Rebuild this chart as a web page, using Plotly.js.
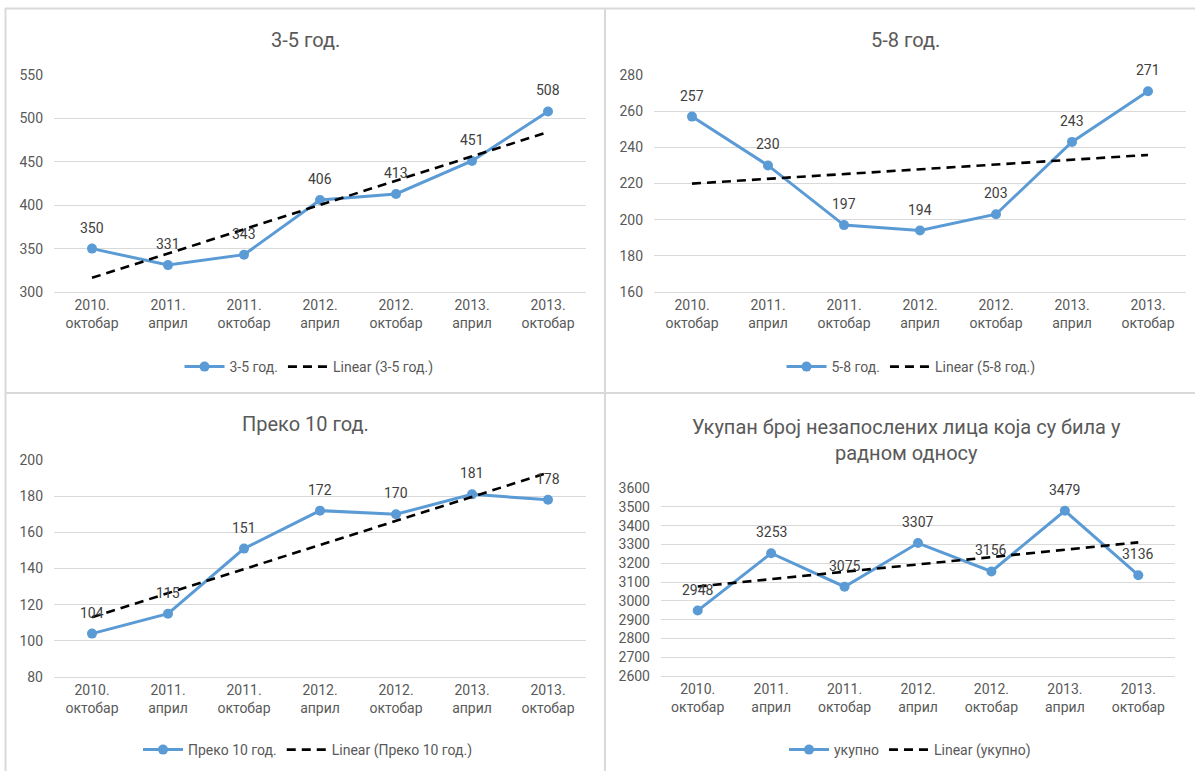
<!DOCTYPE html>
<html>
<head>
<meta charset="utf-8">
<script src="https://cdn.plot.ly/plotly-3.0.1.min.js"></script>
<style>
  html, body { margin: 0; padding: 0; background: #fff; }
  #chart { width: 1195px; height: 771px; }
</style>
</head>
<body>
<div id="chart"></div>
<script>
// ---- data ----
const categories = ["2010.<br>октобар", "2011.<br>април", "2011.<br>октобар", "2012.<br>април", "2012.<br>октобар", "2013.<br>април", "2013.<br>октобар"];

const seriesNames = ["3-5 год.", "5-8 год.", "Преко 10 год.", "укупно"];
const values35 = [350, 331, 343, 406, 413, 451, 508];
const values58 = [257, 230, 197, 194, 203, 243, 271];
const valuesOver10 = [104, 115, 151, 172, 170, 181, 178];
const valuesTotal = [2948, 3253, 3075, 3307, 3156, 3479, 3136];

const chartTitles = ["3-5 год.", "5-8 год.", "Преко 10 год.", "Укупан број незапослених лица која су била у<br>радном односу"];
const yTicks35 = [300, 350, 400, 450, 500, 550];
const yTicks58 = [160, 180, 200, 220, 240, 260, 280];
const yTicksOver10 = [80, 100, 120, 140, 160, 180, 200];
const yTicksTotal = [2600, 2700, 2800, 2900, 3000, 3100, 3200, 3300, 3400, 3500, 3600];

// ---- helpers ----
function linearTrend(vals) {
  const n = vals.length;
  const xs = vals.map((_, i) => i + 1);
  const mx = xs.reduce((a, b) => a + b, 0) / n;
  const my = vals.reduce((a, b) => a + b, 0) / n;
  let sxy = 0, sxx = 0;
  for (let i = 0; i < n; i++) { sxy += (xs[i] - mx) * (vals[i] - my); sxx += (xs[i] - mx) * (xs[i] - mx); }
  const b = sxy / sxx, a = my - b * mx;
  return xs.map(x => a + b * x);
}

const W = 1195, H = 771;
const px = v => v / W;
const py = v => 1 - v / H;

const FONT = "Roboto, 'Open Sans', 'Noto Sans', sans-serif";
const BLUE = "#5b9bd5";
const GRAY = "#595959";
const GRID = "#d9d9d9";

const panels = [
  { vals: values35, ticks: yTicks35, xd: [54, 586], yd: [292, 75], title: chartTitles[0], tx: 305, ty: 40, ly: 367, lx: 309 },
  { vals: values58, ticks: yTicks58, xd: [654, 1186], yd: [292, 75], title: chartTitles[1], tx: 905, ty: 40, ly: 367, lx: 911 },
  { vals: valuesOver10, ticks: yTicksOver10, xd: [54, 586], yd: [677, 460], title: chartTitles[2], tx: 305, ty: 424, ly: 750, lx: 308 },
  { vals: valuesTotal, ticks: yTicksTotal, xd: [661, 1175], yd: [676, 488], title: chartTitles[3], tx: 907, ty: 440, ly: 750, lx: 910 }
];

const data = [];
const layout = {
  width: W, height: H,
  margin: { l: 0, r: 0, t: 0, b: 0 },
  paper_bgcolor: "#fff", plot_bgcolor: "#fff",
  font: { family: FONT, color: GRAY, size: 14 },
  showlegend: true,
  annotations: [],
  shapes: [
    { type: "line", xref: "paper", yref: "paper", x0: px(5.5), x1: px(5.5), y0: py(8), y1: py(771), line: { color: GRID, width: 2 } },
    { type: "line", xref: "paper", yref: "paper", x0: px(5), x1: px(1195), y0: py(8.5), y1: py(8.5), line: { color: GRID, width: 2 } },
    { type: "line", xref: "paper", yref: "paper", x0: px(605), x1: px(605), y0: py(8), y1: py(771), line: { color: GRID, width: 2 } },
    { type: "line", xref: "paper", yref: "paper", x0: px(5), x1: px(1195), y0: py(393), y1: py(393), line: { color: GRID, width: 2 } }
  ]
};

panels.forEach((p, i) => {
  const k = i + 1;
  const xa = "x" + (k === 1 ? "" : k), ya = "y" + (k === 1 ? "" : k);
  const lg = "legend" + (k === 1 ? "" : k);
  const name = seriesNames[i];
  data.push({
    type: "scatter", mode: "lines+markers", x: categories, y: p.vals,
    xaxis: xa, yaxis: ya, legend: lg, name: name,
    line: { color: BLUE, width: 3 }, marker: { color: BLUE, size: 10 },
    hoverinfo: "skip"
  });
  data.push({
    type: "scatter", mode: "lines", x: categories, y: linearTrend(p.vals),
    xaxis: xa, yaxis: ya, legend: lg, name: "Linear (" + name + ")",
    line: { color: "#000", width: 2.6, dash: "9px,6px" },
    hoverinfo: "skip"
  });
  const xk = "xaxis" + (k === 1 ? "" : k), yk = "yaxis" + (k === 1 ? "" : k);
  layout[xk] = {
    domain: [px(p.xd[0]), px(p.xd[1])], anchor: ya,
    type: "category", range: [-0.5, 6.5], fixedrange: true,
    showgrid: false, showline: true, linecolor: GRID, linewidth: 1,
    ticks: "", tickfont: { family: FONT, size: 14, color: GRAY }
  };
  layout[yk] = {
    domain: [py(p.yd[0]), py(p.yd[1])], anchor: xa,
    range: [p.ticks[0], p.ticks[p.ticks.length - 1]], tickvals: p.ticks,
    showgrid: true, gridcolor: GRID, gridwidth: 1, zeroline: false, showline: false,
    ticks: "", ticklabelstandoff: 10, fixedrange: true,
    tickfont: { family: FONT, size: 14, color: GRAY }
  };
  layout[lg] = {
    orientation: "h", x: px(p.lx), xanchor: "center", y: py(p.ly), yanchor: "middle",
    font: { family: FONT, size: 14, color: GRAY }, bgcolor: "rgba(0,0,0,0)",
    itemwidth: 40, tracegroupgap: 0
  };
  // chart title
  layout.annotations.push({
    xref: "paper", yref: "paper", x: px(p.tx), y: py(p.ty), xanchor: "center", yanchor: "middle",
    text: p.title, showarrow: false, font: { family: FONT, size: 20, color: GRAY }
  });
  // data labels
  p.vals.forEach((v, j) => {
    layout.annotations.push({
      xref: xa, yref: ya, x: categories[j], y: v, yshift: 21, showarrow: false,
      text: String(v), font: { family: FONT, size: 14, color: "#404040" }
    });
  });
});

Plotly.newPlot("chart", data, layout, { displayModeBar: false, staticPlot: true });
</script>
</body>
</html>
